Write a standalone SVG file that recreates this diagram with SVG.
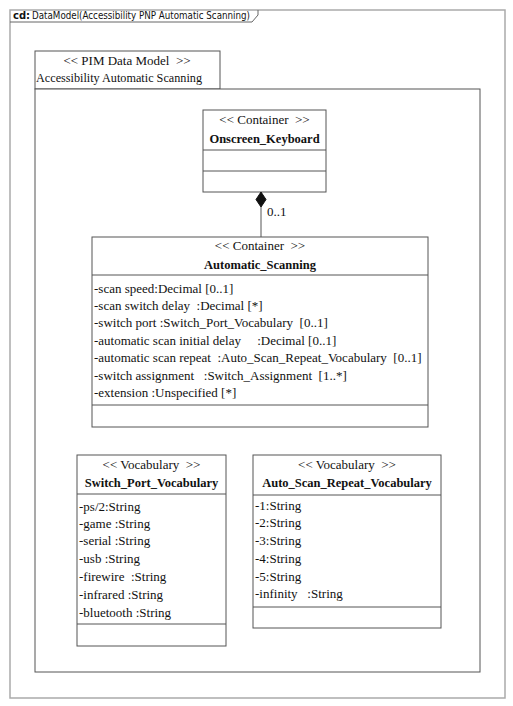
<svg xmlns="http://www.w3.org/2000/svg" width="513" height="706" viewBox="0 0 513 706">
<style>
.box{fill:#fff;stroke:#555;stroke-width:1}
.ln{stroke:#555;stroke-width:1;fill:none}
.t{font-family:"Liberation Serif","Times New Roman",serif;font-size:13px;fill:#111}
.s{font-family:"Liberation Serif","Times New Roman",serif;font-size:13px;fill:#111;text-anchor:middle}
.b{font-family:"Liberation Serif","Times New Roman",serif;font-size:12.5px;font-weight:bold;fill:#111;text-anchor:middle}
.f{font-family:"DejaVu Sans","Liberation Sans",sans-serif;font-size:10px;fill:#111}
</style>
<rect width="513" height="706" fill="#fff"/>
<g id="frame">
<rect x="10" y="10" width="495" height="688" fill="none" stroke="#aaa" stroke-width="1.5"/>
<polyline points="10,22 252,22 258,15 258,10" fill="none" stroke="#666" stroke-width="1"/>
<text class="f" x="13" y="19" font-weight="bold">cd:</text>
<text class="f" x="32" y="19" textLength="218" lengthAdjust="spacingAndGlyphs">DataModel(Accessibility PNP Automatic Scanning)</text>
</g>
<g id="package">
<rect class="box" x="35" y="51" width="185" height="38"/>
<rect class="box" x="35" y="89" width="445" height="583" fill="none"/>
<text class="s" x="127" y="65" xml:space="preserve">&lt;&lt; PIM Data Model  &gt;&gt;</text>
<text class="t" x="36" y="82" textLength="166" lengthAdjust="spacingAndGlyphs">Accessibility Automatic Scanning</text>
</g>
<g id="onscreen_keyboard">
<rect class="box" x="203" y="110" width="123" height="82"/>
<line class="ln" x1="203" y1="150" x2="326" y2="150"/>
<line class="ln" x1="203" y1="171" x2="326" y2="171"/>
<text class="s" x="264.5" y="124" xml:space="preserve">&lt;&lt; Container  &gt;&gt;</text>
<text class="b" x="264.5" y="143">Onscreen_Keyboard</text>
</g>
<g id="connectors">
<line class="ln" x1="261" y1="207" x2="261" y2="237"/>
<polygon points="261,192 266,199.5 261,207 256,199.5" fill="#111" stroke="#111" stroke-width="1"/>
<text class="t" x="267" y="216">0..1</text>
</g>
<g id="automatic_scanning">
<rect class="box" x="92" y="237" width="336" height="190"/>
<line class="ln" x1="92" y1="275" x2="428" y2="275"/>
<line class="ln" x1="92" y1="405" x2="428" y2="405"/>
<text class="s" x="260" y="250" xml:space="preserve">&lt;&lt; Container  &gt;&gt;</text>
<text class="b" x="260" y="269">Automatic_Scanning</text>
<text class="t" x="94" y="293" xml:space="preserve">-scan speed:Decimal [0..1]</text>
<text class="t" x="94" y="310" xml:space="preserve">-scan switch delay  :Decimal [*]</text>
<text class="t" x="94" y="327" xml:space="preserve">-switch port :Switch_Port_Vocabulary  [0..1]</text>
<text class="t" x="94" y="345" xml:space="preserve">-automatic scan initial delay     :Decimal [0..1]</text>
<text class="t" x="94" y="362" xml:space="preserve">-automatic scan repeat  :Auto_Scan_Repeat_Vocabulary  [0..1]</text>
<text class="t" x="94" y="380" xml:space="preserve">-switch assignment   :Switch_Assignment  [1..*]</text>
<text class="t" x="94" y="397" xml:space="preserve">-extension :Unspecified [*]</text>
</g>
<g id="switch_port_vocabulary">
<rect class="box" x="77" y="455" width="149" height="191"/>
<line class="ln" x1="77" y1="494" x2="226" y2="494"/>
<line class="ln" x1="77" y1="624" x2="226" y2="624"/>
<text class="s" x="151.5" y="469" xml:space="preserve">&lt;&lt; Vocabulary  &gt;&gt;</text>
<text class="b" x="151.5" y="487">Switch_Port_Vocabulary</text>
<text class="t" x="79" y="511">-ps/2:String</text>
<text class="t" x="79" y="528">-game :String</text>
<text class="t" x="79" y="545">-serial :String</text>
<text class="t" x="79" y="563">-usb :String</text>
<text class="t" x="79" y="581" xml:space="preserve">-firewire  :String</text>
<text class="t" x="79" y="599">-infrared :String</text>
<text class="t" x="79" y="617">-bluetooth :String</text>
</g>
<g id="auto_scan_repeat_vocabulary">
<rect class="box" x="253" y="455" width="188" height="173"/>
<line class="ln" x1="253" y1="495" x2="441" y2="495"/>
<line class="ln" x1="253" y1="607" x2="441" y2="607"/>
<text class="s" x="347" y="469" xml:space="preserve">&lt;&lt; Vocabulary  &gt;&gt;</text>
<text class="b" x="347" y="487">Auto_Scan_Repeat_Vocabulary</text>
<text class="t" x="255" y="510">-1:String</text>
<text class="t" x="255" y="527">-2:String</text>
<text class="t" x="255" y="545">-3:String</text>
<text class="t" x="255" y="563">-4:String</text>
<text class="t" x="255" y="581">-5:String</text>
<text class="t" x="255" y="598" xml:space="preserve">-infinity   :String</text>
</g>
</svg>
